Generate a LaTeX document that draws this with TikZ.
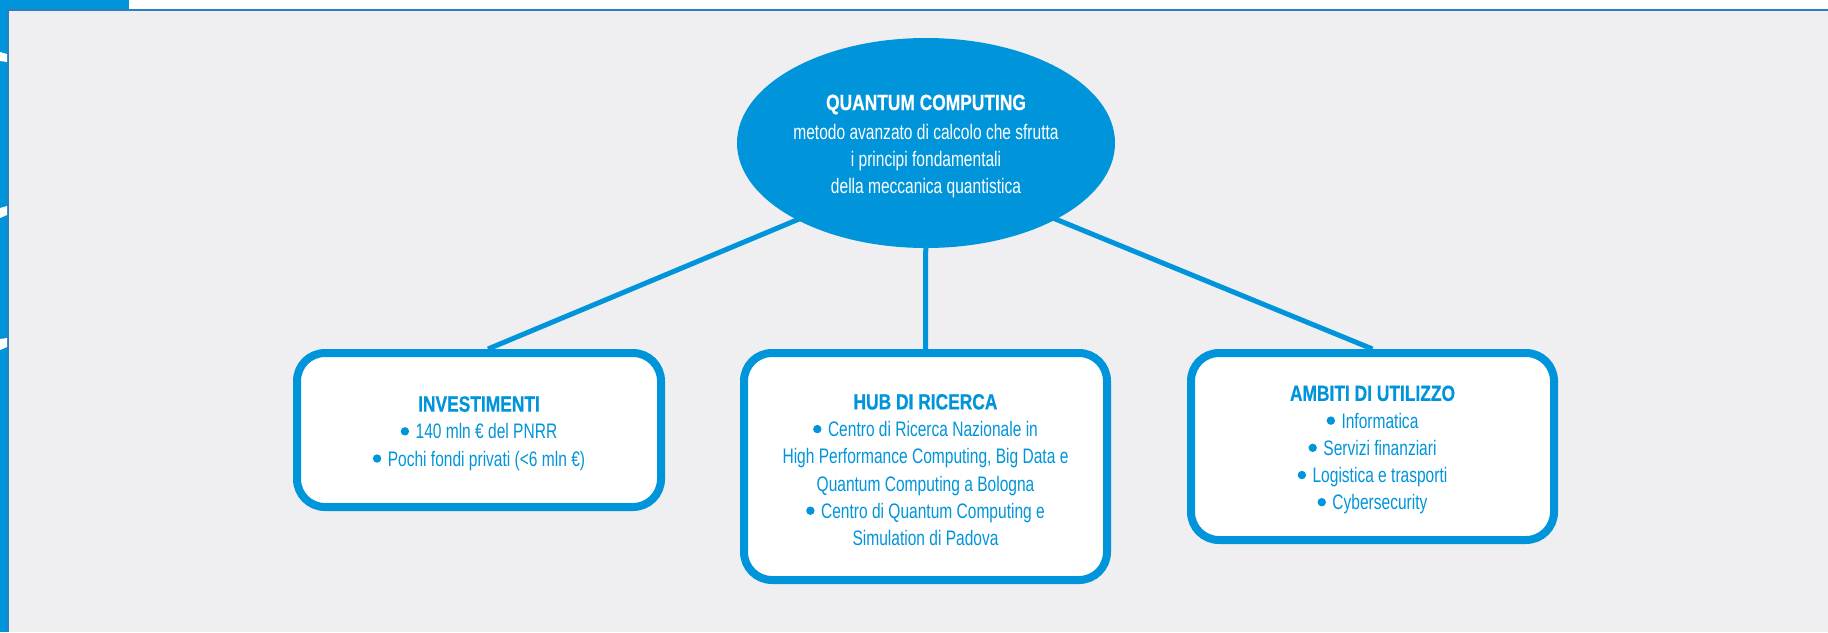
\documentclass[tikz,border=0pt]{standalone}
\usepackage{fontspec}
\setmainfont{Liberation Sans}
\newfontfamily\bodyf{Liberation Sans}[FakeStretch=0.74]
\newfontfamily\headf{Liberation Sans}[FakeStretch=0.79,BoldFeatures={FakeBold=0.6}]
\usetikzlibrary{shapes.geometric,calc}
\definecolor{qblue}{RGB}{0,149,218}
\definecolor{qgray}{RGB}{239,239,241}
\definecolor{qline}{RGB}{45,125,195}
\pgfdeclarelayer{bg}
\pgfdeclarelayer{lines}
\pgfsetlayers{bg,lines,main}
\newcommand{\hd}[1]{{\headf\bfseries\fontsize{22}{27.2}\selectfont\rule{0pt}{22pt}#1}}
\newcommand{\bul}{\tikz[baseline=0pt,x=1pt,y=1pt]\fill[qblue,draw=none] (0,7.5) circle (4.2pt);\hspace{6.5pt}}
\begin{document}
\begin{tikzpicture}[x=1pt,y=-1pt,
  box/.style={draw=qblue, line width=8pt, rounded corners=28pt, fill=white,
    align=center, text=qblue, inner sep=0pt,
    font=\bodyf\fontsize{21}{27.2}\selectfont},
  bubble/.style={ellipse, fill=qblue, draw=none, inner sep=0pt, align=center,
    text=white, font=\bodyf\fontsize{21}{27.2}\selectfont},
  link/.style={draw=qblue, line width=5pt},
  notch/.style={fill=white}]
\useasboundingbox (0,0) rectangle (1828,632);
\begin{pgfonlayer}{bg}
  \fill[white] (0,0) rectangle (1828,632);
  \fill[qblue] (0,0) rectangle (129,10);
  \fill[qblue] (0,0) rectangle (8,632);
  \fill[qgray] (8,10) rectangle (1828,632);
  \draw[qline, line width=1.5pt] (7.75,632) -- (7.75,9.75) -- (1828,9.75);
  \fill[notch] (0,52) -- (7,54) -- (7,62) -- (0,61) -- cycle;
  \fill[notch] (0,208) -- (7,206) -- (7,215) -- (0,218) -- cycle;
  \fill[notch] (0,339) -- (7,338) -- (7,347) -- (0,350) -- cycle;
\end{pgfonlayer}

\node[bubble, minimum width=378pt, minimum height=210pt] (ell) at (926,143)
  {\hd{QUANTUM COMPUTING}\\[2pt] metodo avanzato di calcolo che sfrutta\\ i principi fondamentali\\ della meccanica quantistica};

\node[box, minimum width=364pt, minimum height=154pt] (b1) at (479,430)
  {\hd{INVESTIMENTI}\\ \bul 140 mln € del PNRR\\ \bul Pochi fondi privati (<6 mln €)};

\node[box, minimum width=363pt, minimum height=227pt] (b2) at (925.5,466.5)
  {\hd{HUB DI RICERCA}\\ \bul Centro di Ricerca Nazionale in\\ High Performance Computing, Big Data e\\ Quantum Computing a Bologna\\ \bul Centro di Quantum Computing e\\ Simulation di Padova};

\node[box, minimum width=363pt, minimum height=187pt] (b3) at (1372.5,446.5)
  {\hd{AMBITI DI UTILIZZO}\\ \bul Informatica\\ \bul Servizi finanziari\\ \bul Logistica e trasporti\\ \bul Cybersecurity};

\coordinate (hub) at ($(ell.center)+(0,23)$);
\begin{pgfonlayer}{lines}
  \draw[link] (hub) -- ($(b1.north)+(9,0)$);
  \draw[link] (hub) -- (b3.north);
  \draw[link] (ell.center) -- (b2.north);
\end{pgfonlayer}
\end{tikzpicture}
\end{document}
